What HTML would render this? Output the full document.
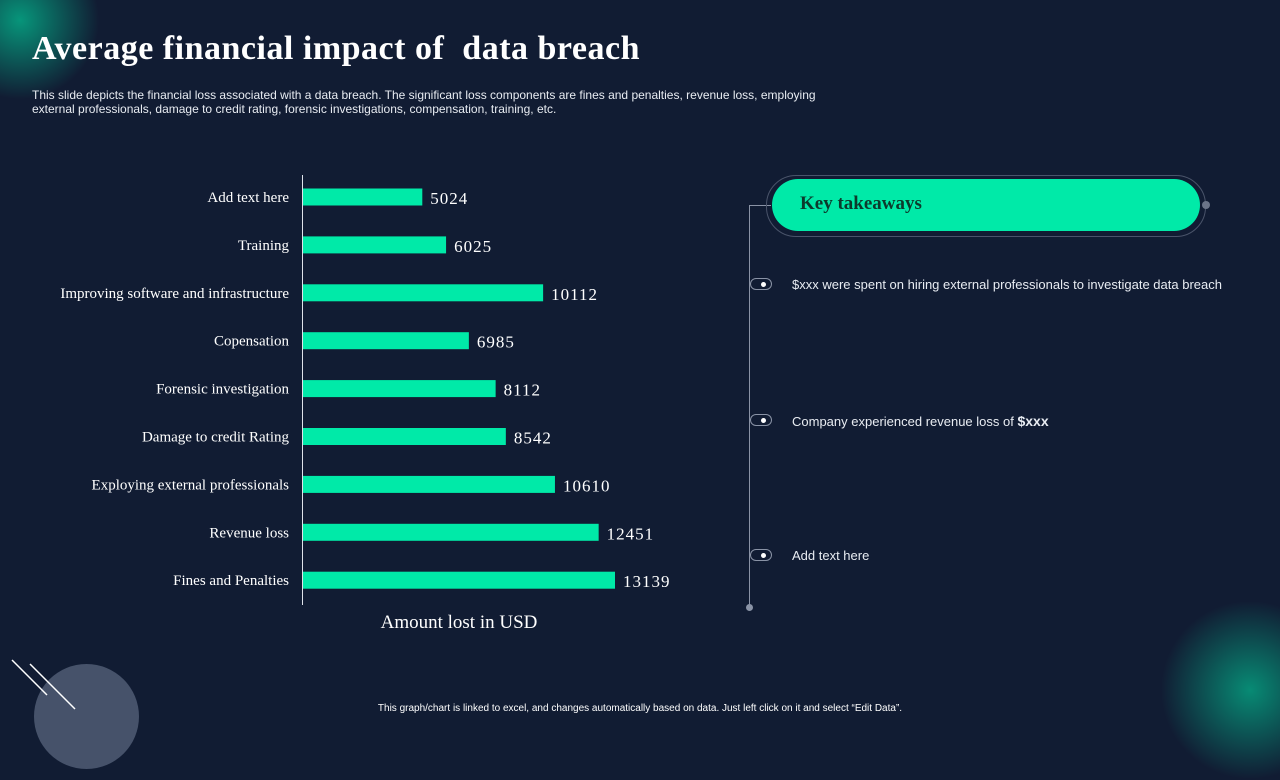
<!DOCTYPE html>
<html><head><meta charset="utf-8"><style>
body{margin:0;width:1280px;height:720px;overflow:hidden;background:#111c33;position:relative;font-family:"Liberation Sans",sans-serif;color:#fff}
.abs{position:absolute}
h1{position:absolute;left:32px;top:30px;margin:0;font-family:"Liberation Serif",serif;font-size:34px;font-weight:bold;letter-spacing:0.5px;color:#fff}
.sub{left:32px;top:88px;font-size:12px;line-height:14px;color:#e8ecf2;width:800px}
.foot{left:0;width:1280px;top:703px;text-align:center;font-size:10px;color:#fff}
.tk{font-size:13px;color:#e8ecf2;left:792px}
.dot{width:20px;height:10px;border:1px solid #8a93a6;border-radius:6px;left:750px;background:#111c33}
.dot::after{content:"";position:absolute;left:10px;top:3px;width:5px;height:5px;border-radius:50%;background:#fff}
</style></head><body>
<div class="abs" style="left:-60px;top:-60px;width:160px;height:160px;border-radius:50%;background:radial-gradient(circle,rgba(0,230,170,0.6),rgba(0,230,170,0) 70%)"></div>
<div class="abs" style="left:1160px;top:600px;width:180px;height:180px;border-radius:50%;background:radial-gradient(circle,rgba(0,230,170,0.55),rgba(0,230,170,0) 70%)"></div>
<div class="abs" style="left:34px;top:664px;width:105px;height:105px;border-radius:50%;background:#46526a"></div>
<svg class="abs" style="left:0;top:640px" width="100" height="80"><line x1="12" y1="20" x2="47" y2="55" stroke="#fff" stroke-width="1.5"/><line x1="30" y1="24" x2="75" y2="69" stroke="#fff" stroke-width="1.5"/></svg>
<h1>Average financial impact of&nbsp; data breach</h1>
<div class="abs sub">This slide depicts the financial loss associated with a data breach. The significant loss components are fines and penalties, revenue loss, employing external professionals, damage to credit rating, forensic investigations, compensation, training, etc.</div>
<svg id="chart" class="abs" style="left:0;top:0" width="740" height="650"></svg>
<div class="abs" style="left:749px;top:206px;width:1px;height:402px;background:#8a93a6"></div>
<div class="abs" style="left:746px;top:604px;width:7px;height:7px;border-radius:50%;background:#8a93a6"></div>
<div class="abs" style="left:749px;top:205px;width:22px;height:1px;background:#8a93a6"></div>
<div class="abs" style="left:766px;top:175px;width:438px;height:60px;border:1px solid #4a546a;border-radius:30px"></div>
<div class="abs" style="left:772px;top:179px;width:428px;height:52px;border-radius:26px;background:#00eaa8"><span style="position:absolute;left:28px;top:14px;font-family:'Liberation Serif',serif;font-weight:bold;font-size:19px;color:#0c3a2c">Key takeaways</span></div>
<div class="abs" style="left:1202px;top:201px;width:8px;height:8px;border-radius:50%;background:#6a7488"></div>
<div class="abs dot" style="top:278px"></div>
<div class="abs tk" style="top:277px">$xxx were spent on hiring external professionals to investigate data breach</div>
<div class="abs dot" style="top:414px"></div>
<div class="abs tk" style="top:413px">Company experienced revenue loss of <b style="font-size:14px">$xxx</b></div>
<div class="abs dot" style="top:549px"></div>
<div class="abs tk" style="top:548px">Add text here</div>
<div class="abs foot">This graph/chart is linked to excel, and changes automatically based on data. Just left click on it and select “Edit Data”.</div>
<script>
const categories=["Add text here","Training","Improving software and infrastructure ","Copensation","Forensic investigation","Damage to credit Rating","Exploying external professionals","Revenue loss","Fines and Penalties"];
const values=[5024,6025,10112,6985,8112,8542,10610,12451,13139];
const NS="http://www.w3.org/2000/svg";
const svg=document.getElementById("chart");
const x0=303,maxV=13139,maxW=312,y0=197,step=47.9,bh=17;
const xs=v=>v/maxV*maxW;
const ys=i=>y0+i*step;
function mk(t,a){const e=document.createElementNS(NS,t);for(const k in a)e.setAttribute(k,a[k]);svg.appendChild(e);return e;}
const ax=mk("line",{x1:x0-0.5,x2:x0-0.5,y1:175,y2:605,stroke:"#dfe3ea","stroke-width":1});


categories.forEach((c,i)=>{
 const r=mk("rect",{x:x0,y:ys(i)-bh/2,width:xs(values[i]),height:bh,fill:"#00eaa8"});
 
 
 const l=mk("text",{x:289,y:ys(i)+5,"text-anchor":"end","font-family":"Liberation Serif,serif","font-size":15,fill:"#fff"});
 l.textContent=c;
 
 
 const v=mk("text",{x:x0+xs(values[i])+8,y:ys(i)+7,"font-family":"Liberation Serif,serif","font-size":17,fill:"#fff","letter-spacing":"1"});
 v.textContent=values[i];
 
 
});
const t=mk("text",{x:459,y:628,"text-anchor":"middle","font-family":"Liberation Serif,serif","font-size":19,fill:"#fff"});
t.textContent="Amount lost in USD";


</script>
</body></html>
